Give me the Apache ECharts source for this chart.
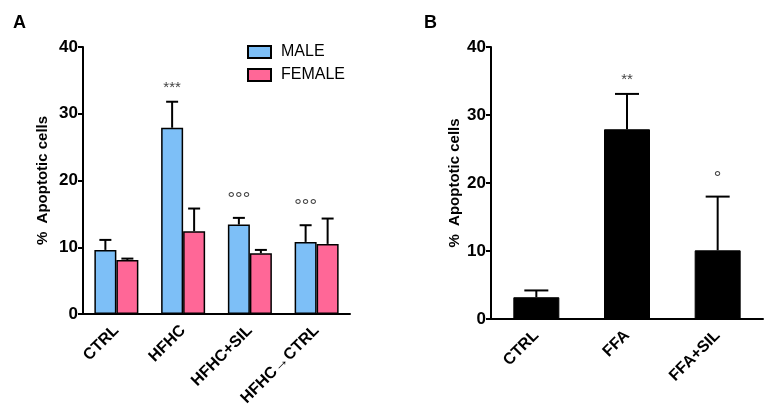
<!DOCTYPE html>
<html>
<head>
<meta charset="utf-8">
<script src="https://cdn.jsdelivr.net/npm/echarts@6/dist/echarts.min.js"></script>
<style>
  html, body { margin: 0; padding: 0; background: #fff; }
  #chart { width: 772px; height: 417px; }
</style>
</head>
<body>
<div id="chart"></div>
<script>
// panel A
const groupsA = ['CTRL', 'HFHC', 'HFHC+SIL', 'HFHC→CTRL'];
const maleMean = [9.6, 27.9, 13.4, 10.8];
const maleSem = [1.5, 3.9, 1.0, 2.5];
const femaleMean = [8.1, 12.4, 9.1, 10.5];
const femaleSem = [0.2, 3.4, 0.5, 3.8];
const notesA = ['', '***', '°°°', '°°°'];

// panel B
const groupsB = ['CTRL', 'FFA', 'FFA+SIL'];
const meanB = [3.2, 27.9, 10.1];
const semB = [1.0, 5.2, 7.9];
const notesB = ['', '**', '°'];

const yTicks = [0, 10, 20, 30, 40];

const FONT = 'Liberation Sans, Arial, sans-serif';

// error bar (only upward) + significance mark
function errorSeries(axis, means, sems, notes, offset, cap) {
  return {
    type: 'custom',
    xAxisIndex: axis,
    yAxisIndex: axis,
    z: 5,
    data: means.map((m, i) => [i, m, m + sems[i]]),
    renderItem: function(params, api) {
      const base = api.coord([api.value(0), api.value(1)]);
      const top = api.coord([api.value(0), api.value(2)]);
      const x = base[0] + offset;
      const note = notes[params.dataIndex];
      const children = [
        { type: 'line', shape: { x1: x, y1: base[1], x2: x, y2: top[1] },
          style: { stroke: '#000', lineWidth: 2 } },
        { type: 'line', shape: { x1: x - cap, y1: top[1], x2: x + cap, y2: top[1] },
          style: { stroke: '#000', lineWidth: 2 } }
      ];
      if (note) {
        const star = note.indexOf('*') >= 0;
        children.push({
          type: 'text',
          style: {
            text: note, x: x, y: top[1] - (star ? 14 : 18),
            align: 'center', verticalAlign: 'middle',
            fill: '#444',
            font: (star ? '15px ' : '19px ') + FONT
          }
        });
      }
      return { type: 'group', children: children };
    }
  };
}

function yAxis(idx, gap) {
  return {
    type: 'value', gridIndex: idx, min: 0, max: 40, interval: 10,
    name: '%  Apoptotic cells', nameLocation: 'middle', nameRotate: 90, nameGap: gap,
    nameTextStyle: { fontSize: 15, fontWeight: 'bold', color: '#000', fontFamily: FONT },
    axisLine: { show: true, lineStyle: { color: '#000', width: 2 } },
    axisTick: { show: true, length: 5, lineStyle: { color: '#000', width: 2 } },
    axisLabel: { fontSize: 17, fontWeight: 'bold', color: '#000', margin: 5, fontFamily: FONT,
      formatter: v => yTicks.indexOf(v) >= 0 ? String(v) : '' },
    splitLine: { show: false }
  };
}

function xAxis(idx, cats) {
  return {
    type: 'category', gridIndex: idx, data: cats,
    axisLine: { lineStyle: { color: '#000', width: 2 } },
    axisTick: { alignWithLabel: true, length: 5, lineStyle: { color: '#000', width: 2 } },
    axisLabel: { rotate: 45, interval: 0, fontSize: 16, fontWeight: 'bold', color: '#000',
      margin: 14, fontFamily: FONT }
  };
}

const chart = echarts.init(document.getElementById('chart'));

chart.setOption({
  backgroundColor: '#fff',
  animation: false,
  title: [
    { text: 'A', left: 8, top: 9, textStyle: { fontSize: 18, fontWeight: 'bold', color: '#000', fontFamily: FONT } },
    { text: 'B', left: 419, top: 9, textStyle: { fontSize: 18, fontWeight: 'bold', color: '#000', fontFamily: FONT } }
  ],
  legend: {
    data: ['MALE', 'FEMALE'],
    orient: 'vertical',
    left: 242, top: 39,
    itemWidth: 23, itemHeight: 12, itemGap: 7,
    icon: 'rect',
    textStyle: { fontSize: 16, color: '#000', fontFamily: FONT, padding: [0, 0, 0, 5] }
  },
  grid: [
    { left: 83, right: 422, top: 47, bottom: 103 },
    { left: 491, right: 9, top: 47, bottom: 98 }
  ],
  xAxis: [xAxis(0, groupsA), xAxis(1, groupsB)],
  yAxis: [yAxis(0, 33), yAxis(1, 29)],
  series: [
    {
      name: 'MALE', type: 'bar', xAxisIndex: 0, yAxisIndex: 0,
      data: maleMean, barWidth: 22, barGap: '0%',
      itemStyle: { color: '#7DBFF7', borderColor: '#000', borderWidth: 1.5 }
    },
    {
      name: 'FEMALE', type: 'bar', xAxisIndex: 0, yAxisIndex: 0,
      data: femaleMean, barWidth: 22, barGap: '0%',
      itemStyle: { color: '#FF6797', borderColor: '#000', borderWidth: 1.5 }
    },
    errorSeries(0, maleMean, maleSem, notesA, -11, 6),
    errorSeries(0, femaleMean, femaleSem, ['', '', '', ''], 11, 6),
    {
      name: 'B', type: 'bar', xAxisIndex: 1, yAxisIndex: 1,
      data: meanB, barWidth: 46,
      itemStyle: { color: '#000', borderColor: '#000', borderWidth: 1 }
    },
    errorSeries(1, meanB, semB, notesB, 0, 12)
  ]
});
</script>
</body>
</html>
